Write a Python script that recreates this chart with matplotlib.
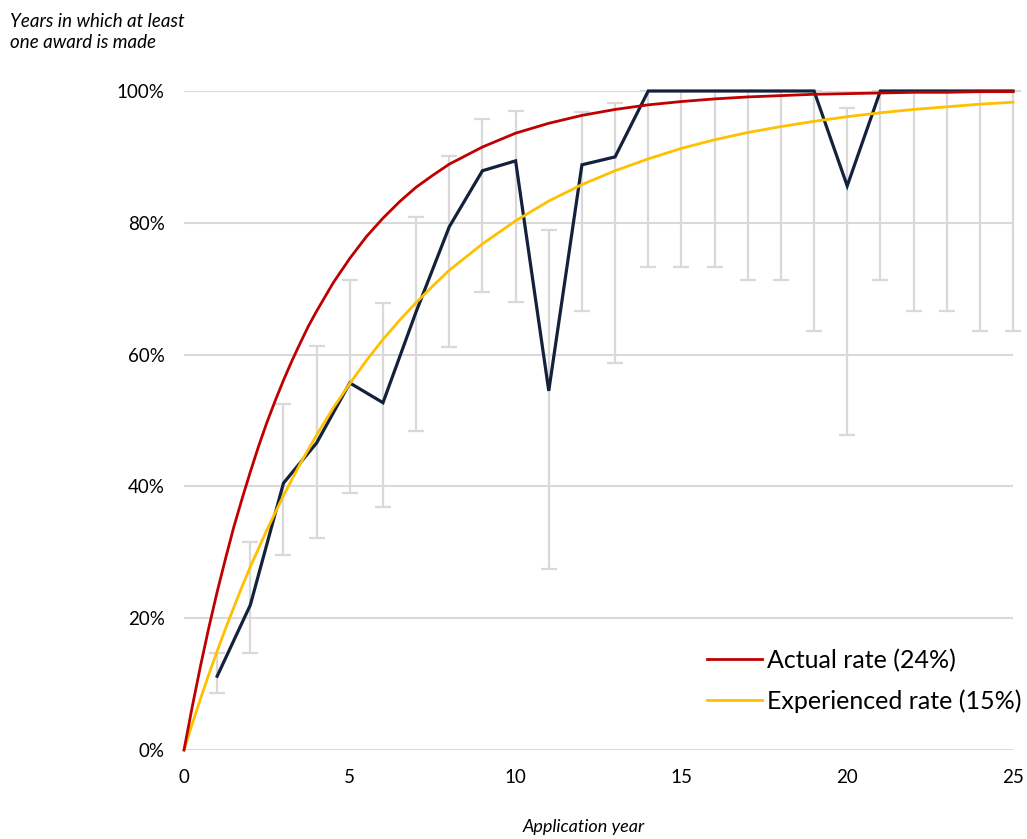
import matplotlib
matplotlib.use("Agg")
import matplotlib.pyplot as plt
from matplotlib.ticker import FuncFormatter

# ---- data ----
curve_x = [0, 0.25, 0.5, 0.75, 1, 1.25, 1.5, 1.75, 2, 2.25, 2.5, 2.75, 3, 3.25, 3.5,
           3.75, 4, 4.5, 5, 5.5, 6, 6.5, 7, 7.5, 8,
           9, 10, 11, 12, 13, 14, 15, 16, 17, 18, 19, 20, 21, 22, 23, 24, 25]
actual_rate = [0.0, 6.6, 12.8, 18.6, 24.0, 29.0, 33.8, 38.1, 42.2, 46.1, 49.7, 53.0,
               56.1, 59.0, 61.7, 64.3, 66.6, 70.9, 74.6,
               77.9, 80.7, 83.2, 85.4, 87.2, 88.9, 91.5, 93.6, 95.1, 96.3, 97.2,
               97.9, 98.4, 98.8, 99.1, 99.3, 99.5, 99.6, 99.7, 99.8, 99.8, 99.9, 99.9]
experienced_rate = [0.0, 4.0, 7.8, 11.5, 15.0, 18.4, 21.6, 24.8, 27.8, 30.6, 33.4, 36.0,
                    38.6, 41.0, 43.4, 45.6, 47.8, 51.9, 55.6,
                    59.1, 62.3, 65.2, 67.9, 70.4, 72.8, 76.8, 80.3, 83.3, 85.8, 87.9,
                    89.7, 91.3, 92.6, 93.7, 94.6, 95.4, 96.1, 96.7, 97.2, 97.6, 98.0, 98.3]

obs_x = list(range(1, 26))
observed = [11.2, 22.0, 40.5, 46.6, 55.7, 52.7, 66.5, 79.4, 87.9, 89.4, 54.5, 88.8,
            90.0, 100, 100, 100, 100, 100, 100, 85.6, 100, 100, 100, 100, 100]
err_upper = [14.7, 31.6, 52.5, 61.3, 71.3, 67.8, 80.9, 90.1, 95.8, 97.0, 78.9, 96.8,
             98.2, 100, 100, 100, 100, 100, 100, 97.4, 100, 100, 100, 100, 100]
err_lower = [8.6, 14.7, 29.6, 32.2, 39.0, 36.9, 48.4, 61.2, 69.5, 68.0, 27.5, 66.6,
             58.7, 73.3, 73.3, 73.3, 71.3, 71.3, 63.6, 47.8, 71.3, 66.6, 66.6, 63.6, 63.6]

legend_labels = ["Actual rate (24%)", "Experienced rate (15%)"]
y_title = "Years in which at least\none award is made"
x_title = "Application year"
x_ticks = [0, 5, 10, 15, 20, 25]
y_ticks = [0, 20, 40, 60, 80, 100]

# ---- style ----
plt.rcParams['font.family'] = ['Lato', 'DejaVu Sans']
RED = "#c00000"
YELLOW = "#ffc000"
NAVY = "#13213c"
GRID = "#d9d9d9"

W, H = 1027, 839
fig = plt.figure(figsize=(W / 100, H / 100), dpi=100)
ax = fig.add_axes([184 / W, (H - 750) / H, (1013 - 184) / W, (750 - 91) / H])

# error bars
yerr_lo = [o - l for o, l in zip(observed, err_lower)]
yerr_hi = [u - o for o, u in zip(observed, err_upper)]
ax.errorbar(obs_x, observed, yerr=[yerr_lo, yerr_hi], fmt='none', ecolor=GRID,
            elinewidth=1.6, capsize=6, capthick=1.6, zorder=2, clip_on=False)

ax.plot(obs_x, observed, color=NAVY, lw=2.3, zorder=3, solid_joinstyle='miter',
        clip_on=False)
l2, = ax.plot(curve_x, experienced_rate, color=YELLOW, lw=2.0, zorder=4, clip_on=False)
l1, = ax.plot(curve_x, actual_rate, color=RED, lw=2.0, zorder=5, clip_on=False)

ax.set_xlim(0, 25)
ax.set_ylim(0, 100)
ax.set_xticks(x_ticks)
ax.set_yticks(y_ticks)
ax.yaxis.set_major_formatter(FuncFormatter(lambda v, p: f"{int(v)}%"))
ax.grid(axis='y', color=GRID, lw=1.5, zorder=0)
ax.set_axisbelow(True)
for s in ax.spines.values():
    s.set_visible(False)
ax.tick_params(axis='both', length=0, labelsize=13.5, colors='black')
ax.tick_params(axis='y', pad=14)
ax.tick_params(axis='x', pad=14)

fig.text(10 / W, 1 - 32 / H, y_title, ha='left', va='center', fontsize=13.5,
         style='italic', linespacing=1.35)
fig.text(584 / W, 1 - 827 / H, x_title, ha='center', va='center', fontsize=13,
         style='italic')

leg = fig.legend([l1, l2], legend_labels, loc='center left',
                 bbox_to_anchor=(707 / W, 1 - 681 / H), frameon=False,
                 fontsize=18, handlelength=2.2, handletextpad=0.2,
                 labelspacing=0.7, borderpad=0, borderaxespad=0)

fig.savefig("out.png", dpi=100)
